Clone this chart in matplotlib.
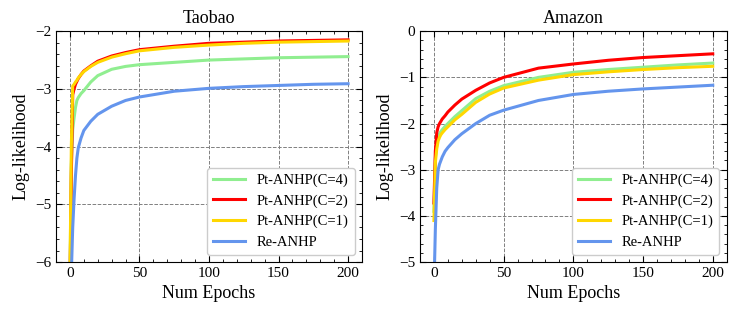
import numpy as np
import matplotlib
matplotlib.use("Agg")
import matplotlib.pyplot as plt
from matplotlib.ticker import MultipleLocator

plt.rcParams['font.family'] = ['Liberation Serif', 'DejaVu Serif']
plt.rcParams['mathtext.fontset'] = 'stix'

epochs = [0, 1, 2, 3, 4, 5, 6, 8, 10, 15, 20, 30, 40, 50, 75, 100, 125, 150, 175, 200]

# Taobao
tb_c4 = [-6.3, -4.3, -3.7, -3.5, -3.32, -3.2, -3.15, -3.08, -3.03, -2.88, -2.77, -2.66, -2.61, -2.58, -2.54, -2.50, -2.48, -2.46, -2.45, -2.44]
tb_c2 = [-6.5, -4.5, -3.1, -3.0, -2.92, -2.87, -2.82, -2.75, -2.69, -2.6, -2.52, -2.43, -2.37, -2.32, -2.26, -2.21, -2.19, -2.17, -2.16, -2.15]
tb_c1 = [-6.3, -4.0, -2.95, -2.92, -2.88, -2.85, -2.81, -2.75, -2.70, -2.61, -2.54, -2.45, -2.39, -2.34, -2.28, -2.24, -2.21, -2.19, -2.18, -2.17]
tb_re = [-7.5, -6.2, -5.4, -4.9, -4.5, -4.2, -4.02, -3.85, -3.72, -3.56, -3.44, -3.3, -3.2, -3.14, -3.04, -2.99, -2.96, -2.94, -2.92, -2.91]

# Amazon
am_c4 = [-3.9, -2.75, -2.47, -2.3, -2.22, -2.17, -2.13, -2.06, -2.0, -1.85, -1.72, -1.46, -1.30, -1.18, -1.0, -0.89, -0.83, -0.78, -0.73, -0.69]
am_c2 = [-3.72, -2.6, -2.2, -2.07, -2.0, -1.95, -1.9, -1.83, -1.75, -1.6, -1.47, -1.28, -1.12, -1.0, -0.8, -0.71, -0.63, -0.57, -0.53, -0.49]
am_c1 = [-4.1, -2.85, -2.55, -2.38, -2.3, -2.24, -2.2, -2.13, -2.07, -1.92, -1.8, -1.54, -1.36, -1.23, -1.06, -0.94, -0.88, -0.83, -0.79, -0.76]
am_re = [-5.6, -4.3, -3.4, -3.0, -2.88, -2.8, -2.72, -2.6, -2.52, -2.35, -2.22, -2.0, -1.82, -1.71, -1.5, -1.37, -1.3, -1.25, -1.21, -1.17]

labels = ['Pt-ANHP(C=4)', 'Pt-ANHP(C=2)', 'Pt-ANHP(C=1)', 'Re-ANHP']
colors = ['#90EE90', '#FF0000', '#FFD700', '#6495ED']

fig = plt.figure(figsize=(7.48, 3.12), dpi=100)
ax1 = fig.add_axes([0.0749, 0.160, 0.409, 0.740])
ax2 = fig.add_axes([0.5615, 0.160, 0.410, 0.740])

panels = [
    (ax1, 'Taobao', [tb_c4, tb_c2, tb_c1, tb_re], (-6, -2)),
    (ax2, 'Amazon', [am_c4, am_c2, am_c1, am_re], (-5, 0)),
]

for ax, title, series, ylim in panels:
    for ys, lab, col in zip(series, labels, colors):
        ax.plot(epochs, ys, color=col, lw=2.2, label=lab)
    ax.set_xlim(-10, 210)
    ax.set_ylim(*ylim)
    ax.xaxis.set_major_locator(MultipleLocator(50))
    ax.xaxis.set_minor_locator(MultipleLocator(10))
    ax.yaxis.set_major_locator(MultipleLocator(1))
    ax.yaxis.set_minor_locator(MultipleLocator(0.2))
    ax.tick_params(which='both', direction='in', top=True, right=True, labelsize=11)
    ax.tick_params(which='major', length=4, width=0.8)
    ax.tick_params(which='minor', length=2, width=0.6)
    ax.grid(True, which='major', linestyle='--', color='gray', linewidth=0.7)
    ax.set_title(title, fontsize=13)
    ax.set_xlabel('Num Epochs', fontsize=13)
    ax.set_ylabel('Log-likelihood', fontsize=13)
    ax.legend(loc='lower right', fontsize=10.5, handlelength=2.2, framealpha=1,
              edgecolor='#cccccc', fancybox=True)

fig.savefig('out.png', dpi=100)
